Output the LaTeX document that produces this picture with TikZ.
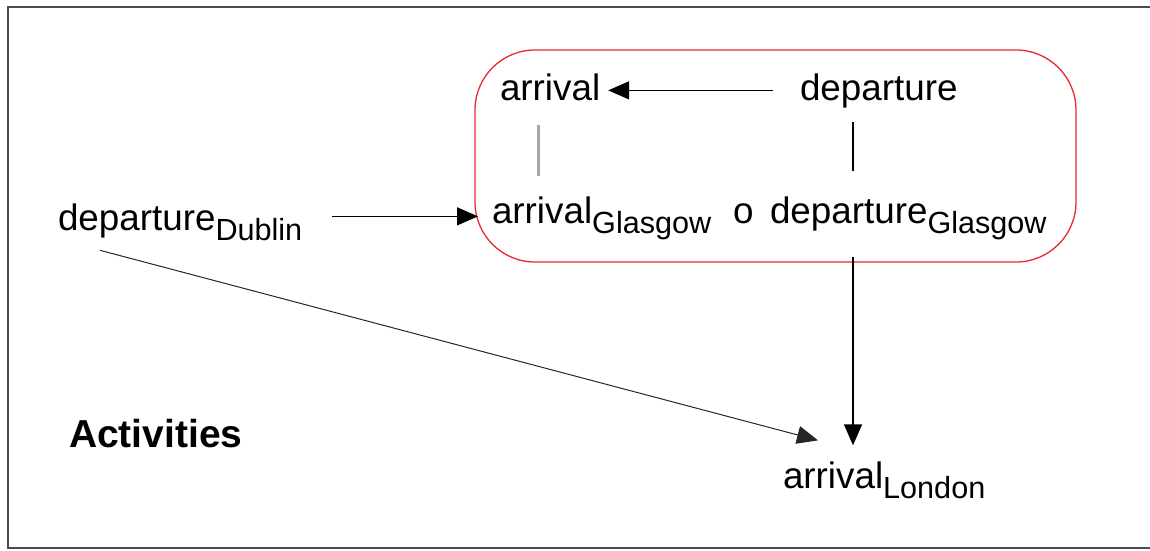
\documentclass[tikz,border=0pt]{standalone}
\usepackage{fontspec}
\setmainfont{Liberation Sans}
\usetikzlibrary{arrows.meta}
\definecolor{boxred}{RGB}{232,40,50}
\newcommand\place[1]{\raisebox{-10pt}{\fontsize{30.6}{31}\selectfont #1}}
\begin{document}
\begin{tikzpicture}[x=1pt, y=-1pt]
\tikzset{word/.style={anchor=base west, inner sep=0, outer sep=0, font=\fontsize{36.8}{40}\selectfont},
  conn/.style={line width=1.4pt, black},
  tip/.style={-{Triangle[length=21pt,width=18pt]}}}
\useasboundingbox (0,0) rectangle (1150,550);
\draw[line width=2pt, black!70] (1152,7) -- (8,7) -- (8,548) -- (1152,548);
%% define coordinate grid
\def \xdub {58}
\def \xleft {500}
\def \xglarr {492}
\def \xop {733}
\def \xgldep {770}
\def \xright {800}
\def \xlon {783}
\def \ytop {100}
\def \ymid {223}
\def \ydub {230}
\def \ylon {488}

%% the inner box
\draw[boxred, line width=1.3pt, rounded corners=60pt] (475,50) rectangle (1076,262);
\node[word] (arr) at (\xleft,\ytop) {arrival};
\node[word] (dep) at (\xright,\ytop) {departure};
\node[word] (glarr) at (\xglarr,\ymid) {arrival\place{Glasgow}};
\node[word] (op) at (\xop,\ymid) {o};
\node[word] (gldep) at (\xgldep,\ymid) {departure\place{Glasgow}};
% outer words
\node[word] (dub) at (\xdub,\ydub) {departure\place{Dublin}};
\node[word] (lon) at (\xlon,\ylon) {arrival\place{London}};
\node[word, font=\fontsize{39}{42}\selectfont\bfseries] (act) at (69,447) {Activities};
% paths
\draw[conn,tip] ([xshift=-27pt,yshift=7pt]dep.mid west) -- ([xshift=8pt,yshift=7pt]arr.mid east);
\draw[line width=3pt, black!35] ([xshift=-12pt]arr.south) ++(0,25) -- ++(0,51);
\draw[conn] ([xshift=53pt]dep.south west) ++(0,14) -- ++(0,49);
\draw[conn,tip] ([xshift=30pt,yshift=11pt]dub.mid east) -- ([xshift=-14pt,yshift=4pt]glarr.mid west);
\draw[conn,tip] ([xshift=83pt]gldep.south west) ++(0,18) -- ([xshift=70pt,yshift=16pt]lon.north west);
\draw[line width=1pt, black!85,tip] ([xshift=42pt,yshift=-10pt]dub.south west) -- ([xshift=35pt,yshift=21pt]lon.north west);
\end{tikzpicture}
\end{document}
